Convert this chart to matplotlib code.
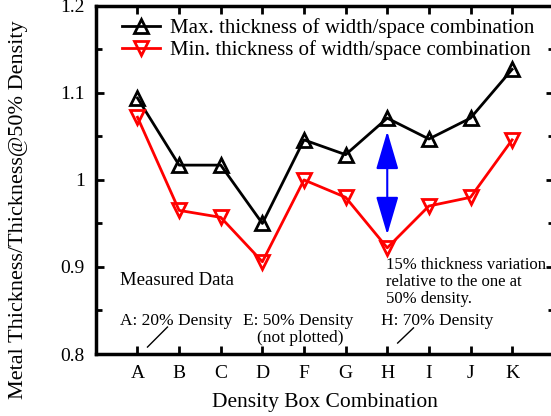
import matplotlib
matplotlib.use("Agg")
import matplotlib.pyplot as plt
from matplotlib.ticker import MultipleLocator

plt.rcParams.update({
    "font.family": "Liberation Serif",
    "font.size": 14,
    "mathtext.fontset": "stix",
})

categories = ["A", "B", "C", "D", "F", "G", "H", "I", "J", "K"]
max_thk = [1.094, 1.017, 1.017, 0.950, 1.046, 1.029, 1.071, 1.047, 1.071, 1.127]
min_thk = [1.072, 0.965, 0.957, 0.906, 1.000, 0.980, 0.922, 0.970, 0.980, 1.046]
max_label = "Max. thickness of width/space combination"
min_label = "Min. thickness of width/space combination"

xs = list(range(1, len(categories) + 1))

fig = plt.figure(figsize=(5.51, 4.16), dpi=100)
ax = fig.add_axes([0.174, 0.149, 0.831, 0.837])

ax.plot(xs, max_thk, "-", color="black", lw=2, marker="^", ms=10,
        mfc="none", mec="black", mew=2, label=max_label)
ax.plot(xs, min_thk, "-", color="red", lw=2, marker="v", ms=10,
        mfc="none", mec="red", mew=2, label=min_label)

# variation arrow at H
h = categories.index("H")
ax.annotate("", xy=(xs[h], min_thk[h] + 0.012), xytext=(xs[h], max_thk[h] - 0.012),
            arrowprops=dict(arrowstyle="<|-|>,head_length=1.7,head_width=0.5",
                            color="blue", lw=1.5))

ax.text(0.59, 0.879, "Measured Data", fontsize=13.5)
ax.text(0.59, 0.833, "A: 20% Density", fontsize=12.5)
ax.plot([1.24, 1.72], [0.808, 0.831], color="black", lw=1)
ax.text(4.87, 0.833, "E: 50% Density", fontsize=12.5, ha="center")
ax.text(4.9, 0.814, "(not plotted)", fontsize=12.5, ha="center")
ax.text(6.84, 0.833, "H: 70% Density", fontsize=12.5)
ax.plot([7.25, 7.63], [0.8126, 0.830], color="black", lw=1)
ax.text(6.96, 0.912, "15% thickness variation\nrelative to the one at\n50% density.",
        fontsize=12, linespacing=1.1, va="top")

ax.set_xlim(0, 11)
ax.set_ylim(0.8, 1.2)
ax.set_xticks(xs)
ax.set_xticklabels(categories)
ax.yaxis.set_minor_locator(MultipleLocator(0.05))
ax.set_yticks([0.8, 0.9, 1.0, 1.1, 1.2])
ax.set_yticklabels(["0.8", "0.9", "1", "1.1", "1.2"])
ax.tick_params(which="both", direction="in", top=True, right=True, width=2)
ax.tick_params(which="major", length=6, labelsize=14, pad=8)
ax.tick_params(which="minor", length=4)
ax.tick_params(axis="x", which="minor", top=False, bottom=False)
for s in ax.spines.values():
    s.set_linewidth(2.5)

ax.set_xlabel("Density Box Combination", fontsize=15.5, labelpad=8)
ax.set_ylabel("Metal Thickness/Thickness@50% Density", fontsize=16)
ax.yaxis.set_label_coords(-0.148, 0.414)

ax.legend(loc="upper left", frameon=False, fontsize=15, handlelength=1.8,
          handletextpad=0.5, borderaxespad=0.2, labelspacing=0.1,
          bbox_to_anchor=(0.03, 1.0))

fig.savefig("out.png", dpi=100)
